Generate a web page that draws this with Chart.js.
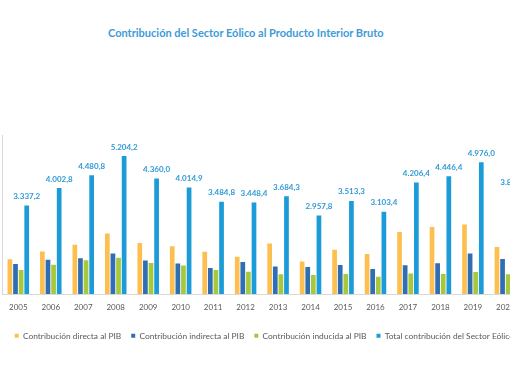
<!DOCTYPE html>
<html>
<head>
<meta charset="utf-8">
<script src="https://cdn.jsdelivr.net/npm/chart.js@4/dist/chart.umd.min.js"></script>
<style>
  html, body { margin: 0; padding: 0; background: #fff; overflow: hidden; width: 510px; height: 382px; }
  #wrap { position: relative; width: 555px; height: 382px; }
  #title { position: absolute; left: 108px; top: 26px; font: bold 11px Lato, sans-serif; color: #3d9bd8; white-space: nowrap; line-height: 13px; }
  canvas { position: absolute; left: 0; top: 0; }
</style>
</head>
<body>
<div id="wrap">
  <div id="title">Contribución del Sector Eólico al Producto Interior Bruto</div>
  <canvas id="c" width="555" height="382"></canvas>
</div>
<script>
const categories = ["2005","2006","2007","2008","2009","2010","2011","2012","2013","2014","2015","2016","2017","2018","2019","2020"];
const directa   = [1307, 1607, 1860, 2285, 1928, 1804, 1595, 1405, 1903, 1222, 1670, 1513, 2341, 2526, 2621, 1778];
const indirecta = [1129, 1296, 1345, 1533, 1265, 1148,  982, 1208, 1034, 1019, 1091,  942, 1088, 1163, 1526, 1322];
const inducida  = [ 901, 1100, 1276, 1370, 1167, 1074,  908,  835,  747,  717,  752,  648,  777,  757,  829,  741];
const total     = [3337.2, 4002.8, 4480.8, 5204.2, 4360.0, 4014.9, 3484.8, 3448.4, 3684.3, 2957.8, 3513.3, 3103.4, 4206.4, 4446.4, 4976.0, 3881.4];
const seriesNames = ["Contribución directa al PIB", "Contribución indirecta al PIB", "Contribución inducida al PIB", "Total contribución del Sector Eólico al PIB"];

function fmt(v) {
  const s = v.toFixed(1);
  let [i, d] = s.split('.');
  i = i.replace(/\B(?=(\d{3})+(?!\d))/g, '.');
  return i + ',' + d;
}

const labelPlugin = {
  id: 'totLabels',
  afterDatasetsDraw(chart) {
    const ctx = chart.ctx;
    const meta = chart.getDatasetMeta(3);
    ctx.save();
    ctx.font = 'bold 8px Lato, sans-serif';
    ctx.fillStyle = '#2f9ad6';
    ctx.textAlign = 'center';
    ctx.textBaseline = 'middle';
    meta.data.forEach((bar, i) => {
      ctx.fillText(fmt(total[i]), bar.x, bar.y - 9);
    });
    ctx.restore();
  }
};

new Chart(document.getElementById('c'), {
  type: 'bar',
  data: {
    labels: categories,
    datasets: [
      { label: seriesNames[0], data: directa, backgroundColor: '#fdc050' },
      { label: seriesNames[1], data: indirecta, backgroundColor: '#2f6db5' },
      { label: seriesNames[2], data: inducida, backgroundColor: '#a6c83a' },
      { label: seriesNames[3], data: total, backgroundColor: '#1b9bd8' }
    ]
  },
  options: {
    responsive: false,
    animation: false,
    categoryPercentage: 0.69,
    barPercentage: 0.84,
    layout: { padding: { top: 135, left: 1, right: 4, bottom: 32 } },
    plugins: {
      title: { display: false },
      tooltip: { enabled: false },
      legend: {
        position: 'bottom',
        align: 'center',
        labels: {
          boxWidth: 4, boxHeight: 4, padding: 10,
          color: '#595959',
          font: { family: 'Lato', size: 8.4 }
        }
      }
    },
    scales: {
      x: {
        grid: { display: false, drawTicks: false },
        border: { display: true, color: '#d9d9d9' },
        ticks: { color: '#595959', font: { family: 'Lato', size: 8 }, padding: 9, maxRotation: 0, autoSkip: false }
      },
      y: {
        min: 0, max: 6000,
        grid: { display: false },
        border: { display: true, color: '#d9d9d9' },
        ticks: { display: false },
        afterFit(axis) { axis.width = 0; }
      },
      yr: {
        position: 'right',
        min: 0, max: 6000,
        grid: { display: false },
        border: { display: false },
        ticks: { display: false },
        afterFit(axis) { axis.width = 29.4; }
      }
    }
  },
  plugins: [labelPlugin]
});
</script>
</body>
</html>
